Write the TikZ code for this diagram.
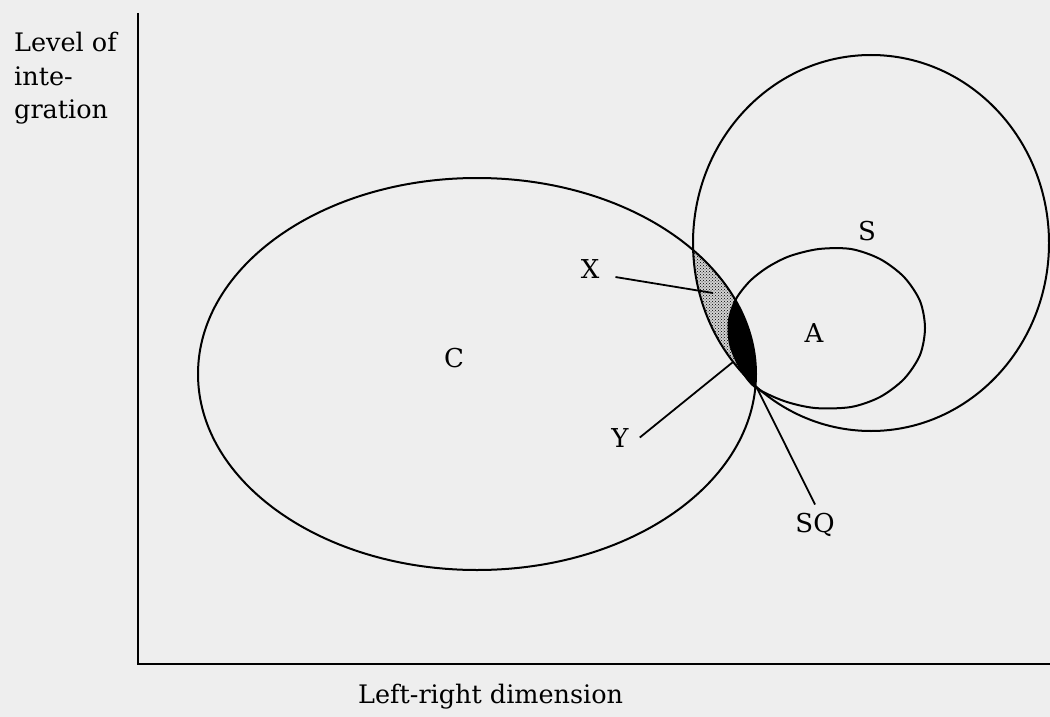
\documentclass[tikz,border=0pt]{standalone}
\usepackage{fontspec}
\setmainfont{DejaVu Serif}
\usetikzlibrary{patterns}
\definecolor{bg}{gray}{0.935}
\begin{document}
\begin{tikzpicture}[x=1pt,y=-1pt,
  curve/.style={line width=2pt, line join=round},
  axis/.style={line width=2.6pt},
  pointer/.style={line width=1.8pt},
  lbl/.style={font=\fontsize{26}{30}\selectfont, inner sep=0pt, anchor=base},
  axlbl/.style={font=\fontsize{25.5}{30}\selectfont, inner sep=0pt, anchor=base west},
]
\fill[bg] (0,0) rectangle (1050,717);
\useasboundingbox (0,0) rectangle (1050,717);

\def\Cpath{(477,374) ellipse [x radius=279pt, y radius=196pt]}
\def\Spath{(871,243) ellipse [x radius=178pt, y radius=188pt]}
\def\Apath{plot[smooth cycle, tension=0.5] coordinates {(755,387) (784,401) (815,408) (851,407) (880,397) (904,379) (920,355) (925,328) (920,301) (904,277) (880,259) (851,249) (819,249) (790,256) (768,267) (750,281) (736,299) (729,320) (730,344) (740,368)}}

% dotted region X = C and S
\begin{scope}
  \clip \Cpath;
  \clip \Spath;
  \fill[gray!35] (600,150) rectangle (820,450);
  \fill[pattern=crosshatch dots, pattern color=black] (600,150) rectangle (820,450);
\end{scope}
% black region Y = C and A
\begin{scope}
  \clip \Cpath;
  \fill[black] \Apath;
\end{scope}

\draw[curve] \Cpath;
\draw[curve] \Spath;
\draw[curve] \Apath;

% axes
\coordinate (ytop) at (138,13);
\coordinate (O) at (138,664);
\coordinate (xend) at (1050,664);
\draw[axis] (ytop) -- (O) -- (xend);

% labels
\node[lbl] (C) at (454,367) {C};
\node[lbl] (S) at (867,240) {S};
\node[lbl] (A) at (814,342) {A};
\node[lbl] (X) at (590,278) {X};
\node[lbl] (Y) at (620,447) {Y};
\node[lbl] (SQ) at (815,532) {SQ};

\coordinate (xt) at (713,293);
\coordinate (yt) at (733,362);
\coordinate (sqt) at (757,388);
\draw[pointer] ([xshift=16pt,yshift=-8.5pt]X.east) -- (xt);
\draw[pointer] ([xshift=11pt]Y.east) -- (yt);
\draw[pointer] ([yshift=8pt]SQ.north) -- (sqt);

\node[axlbl] (lv1) at (14,52) {Level of};
\node[axlbl] (lv2) at (14,85) {inte-};
\node[axlbl] (lv3) at (14,118) {gration};
\node[axlbl] (lr) at (358,703) {Left-right dimension};
\end{tikzpicture}
\end{document}
